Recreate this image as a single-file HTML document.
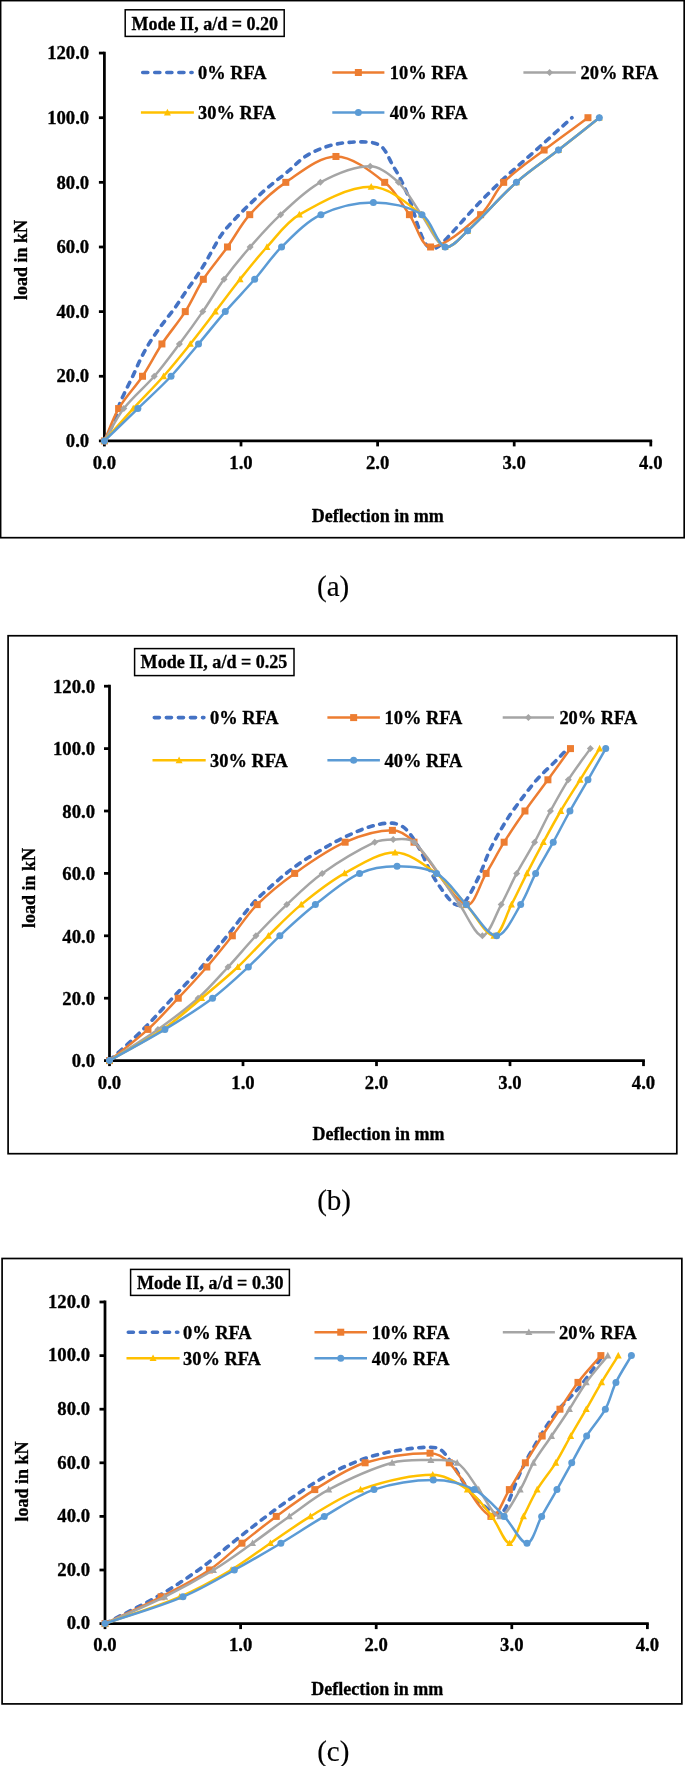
<!DOCTYPE html>
<html><head><meta charset="utf-8"><title>Mode II load-deflection charts</title>
<style>html,body{margin:0;padding:0;background:#fff;} svg{display:block;will-change:transform;}</style></head>
<body>
<svg width="685" height="1766" viewBox="0 0 685 1766">
<rect x="0" y="0" width="685" height="1766" fill="#fff"/>
<rect x="0.6" y="0.6" width="683.6" height="537.1" fill="#fff" stroke="#000" stroke-width="1.7"/>
<rect x="125.2" y="9.8" width="159.0" height="26.599999999999998" fill="#fff" stroke="#000" stroke-width="1.5"/>
<text x="131.5" y="29.7" font-family="Liberation Serif" font-weight="bold" stroke="#000" stroke-width="0.3" font-size="18" textLength="146.6" lengthAdjust="spacingAndGlyphs">Mode II, a/d = 0.20</text>
<line x1="98.90" y1="440.90" x2="104.40" y2="440.90" stroke="#000" stroke-width="2.75"/>
<text x="89.20" y="447.10" font-family="Liberation Serif" font-weight="bold" stroke="#000" stroke-width="0.3" font-size="18.7" text-anchor="end">0.0</text>
<line x1="98.90" y1="376.26" x2="104.40" y2="376.26" stroke="#000" stroke-width="2.75"/>
<text x="89.20" y="382.46" font-family="Liberation Serif" font-weight="bold" stroke="#000" stroke-width="0.3" font-size="18.7" text-anchor="end">20.0</text>
<line x1="98.90" y1="311.62" x2="104.40" y2="311.62" stroke="#000" stroke-width="2.75"/>
<text x="89.20" y="317.82" font-family="Liberation Serif" font-weight="bold" stroke="#000" stroke-width="0.3" font-size="18.7" text-anchor="end">40.0</text>
<line x1="98.90" y1="246.98" x2="104.40" y2="246.98" stroke="#000" stroke-width="2.75"/>
<text x="89.20" y="253.18" font-family="Liberation Serif" font-weight="bold" stroke="#000" stroke-width="0.3" font-size="18.7" text-anchor="end">60.0</text>
<line x1="98.90" y1="182.34" x2="104.40" y2="182.34" stroke="#000" stroke-width="2.75"/>
<text x="89.20" y="188.54" font-family="Liberation Serif" font-weight="bold" stroke="#000" stroke-width="0.3" font-size="18.7" text-anchor="end">80.0</text>
<line x1="98.90" y1="117.70" x2="104.40" y2="117.70" stroke="#000" stroke-width="2.75"/>
<text x="89.20" y="123.90" font-family="Liberation Serif" font-weight="bold" stroke="#000" stroke-width="0.3" font-size="18.7" text-anchor="end">100.0</text>
<line x1="98.90" y1="53.06" x2="104.40" y2="53.06" stroke="#000" stroke-width="2.75"/>
<text x="89.20" y="59.26" font-family="Liberation Serif" font-weight="bold" stroke="#000" stroke-width="0.3" font-size="18.7" text-anchor="end">120.0</text>
<line x1="104.40" y1="440.90" x2="104.40" y2="446.40" stroke="#000" stroke-width="2.75"/>
<text x="104.40" y="468.60" font-family="Liberation Serif" font-weight="bold" stroke="#000" stroke-width="0.3" font-size="18.7" text-anchor="middle">0.0</text>
<line x1="241.00" y1="440.90" x2="241.00" y2="446.40" stroke="#000" stroke-width="2.75"/>
<text x="241.00" y="468.60" font-family="Liberation Serif" font-weight="bold" stroke="#000" stroke-width="0.3" font-size="18.7" text-anchor="middle">1.0</text>
<line x1="377.60" y1="440.90" x2="377.60" y2="446.40" stroke="#000" stroke-width="2.75"/>
<text x="377.60" y="468.60" font-family="Liberation Serif" font-weight="bold" stroke="#000" stroke-width="0.3" font-size="18.7" text-anchor="middle">2.0</text>
<line x1="514.20" y1="440.90" x2="514.20" y2="446.40" stroke="#000" stroke-width="2.75"/>
<text x="514.20" y="468.60" font-family="Liberation Serif" font-weight="bold" stroke="#000" stroke-width="0.3" font-size="18.7" text-anchor="middle">3.0</text>
<line x1="650.80" y1="440.90" x2="650.80" y2="446.40" stroke="#000" stroke-width="2.75"/>
<text x="650.80" y="468.60" font-family="Liberation Serif" font-weight="bold" stroke="#000" stroke-width="0.3" font-size="18.7" text-anchor="middle">4.0</text>
<path d="M104.40,51.68 L104.40,440.90 L652.17,440.90" fill="none" stroke="#000" stroke-width="2.75"/>
<text x="377.8" y="522.3" font-family="Liberation Serif" font-weight="bold" stroke="#000" stroke-width="0.3" font-size="18" text-anchor="middle">Deflection in mm</text>
<text transform="translate(26.8,260.0) rotate(-90)" font-family="Liberation Serif" font-weight="bold" stroke="#000" stroke-width="0.3" font-size="18" text-anchor="middle">load in kN</text>
<path d="M104.40,440.90 C107.59,434.44 111.22,428.16 113.96,421.51 C116.55,415.23 117.77,408.39 120.38,402.12 C124.28,392.77 129.18,383.83 133.50,374.64 C136.01,369.28 138.23,363.78 140.87,358.48 C143.33,353.55 145.93,348.65 148.80,343.94 C151.76,339.06 155.06,334.38 158.36,329.72 C161.30,325.55 164.43,321.51 167.51,317.44 C170.13,313.97 172.91,310.63 175.43,307.10 C178.74,302.44 181.75,297.58 184.99,292.87 C188.36,287.99 191.92,283.24 195.24,278.33 C198.47,273.55 201.67,268.73 204.66,263.79 C207.55,259.03 210.08,254.06 212.86,249.24 C215.68,244.36 218.17,239.24 221.47,234.70 C225.45,229.22 229.99,224.06 234.72,219.18 C244.19,209.41 253.95,199.83 264.09,190.74 C271.98,183.67 280.66,177.49 288.81,170.70 C294.37,166.07 299.21,160.41 305.20,156.48 C311.05,152.65 317.76,149.92 324.33,147.43 C329.14,145.61 334.27,144.40 339.35,143.56 C345.29,142.57 351.37,142.05 357.38,141.94 C362.80,141.84 368.48,141.68 373.64,142.91 C377.04,143.72 380.80,145.47 383.06,148.08 C387.04,152.68 389.25,159.07 392.35,164.56 C395.03,169.31 398.04,173.89 400.41,178.78 C404.05,186.28 407.48,193.93 410.38,201.73 C413.53,210.19 415.41,219.14 418.58,227.59 C420.87,233.68 422.99,240.59 426.78,245.36 C428.46,247.49 432.46,248.77 434.97,248.27 C437.93,247.69 440.79,244.57 443.17,242.13 C453.86,231.21 463.63,219.31 474.18,208.20 C482.75,199.16 491.47,190.23 500.54,181.69 C512.09,170.83 524.24,160.60 536.06,150.02 C548.05,139.27 560.01,128.47 571.98,117.70" fill="none" stroke="#4472C4" stroke-width="3.6" stroke-dasharray="5.1 6.65" stroke-linecap="round" stroke-linejoin="round"/>
<path d="M104.40,440.90 C109.14,430.13 112.67,418.65 118.61,408.58 C125.37,397.11 135.06,387.38 142.51,376.26 C149.50,365.83 154.98,354.41 161.91,343.94 C169.24,332.86 178.11,322.80 185.27,311.62 C191.91,301.25 196.57,289.61 203.30,279.30 C210.64,268.06 219.63,257.90 227.48,246.98 C235.11,236.36 241.04,224.31 249.74,214.66 C260.48,202.76 272.53,191.30 285.80,182.34 C301.26,171.91 319.28,156.48 335.94,156.48 C352.24,156.48 370.60,171.18 384.70,182.34 C395.10,190.57 401.58,203.61 409.43,214.66 C416.88,225.15 421.26,246.98 430.60,246.98 C444.99,246.98 465.98,227.58 480.60,214.66 C490.34,206.04 494.49,191.69 503.68,182.34 C515.66,170.15 530.43,160.52 544.12,150.02 C558.52,138.97 573.35,128.47 587.96,117.70" fill="none" stroke="#ED7D31" stroke-width="2.5" stroke-linejoin="round"/>
<rect x="100.90" y="437.40" width="7.00" height="7.00" fill="#ED7D31"/>
<rect x="115.11" y="405.08" width="7.00" height="7.00" fill="#ED7D31"/>
<rect x="139.01" y="372.76" width="7.00" height="7.00" fill="#ED7D31"/>
<rect x="158.41" y="340.44" width="7.00" height="7.00" fill="#ED7D31"/>
<rect x="181.77" y="308.12" width="7.00" height="7.00" fill="#ED7D31"/>
<rect x="199.80" y="275.80" width="7.00" height="7.00" fill="#ED7D31"/>
<rect x="223.98" y="243.48" width="7.00" height="7.00" fill="#ED7D31"/>
<rect x="246.24" y="211.16" width="7.00" height="7.00" fill="#ED7D31"/>
<rect x="282.30" y="178.84" width="7.00" height="7.00" fill="#ED7D31"/>
<rect x="332.44" y="152.98" width="7.00" height="7.00" fill="#ED7D31"/>
<rect x="381.20" y="178.84" width="7.00" height="7.00" fill="#ED7D31"/>
<rect x="405.93" y="211.16" width="7.00" height="7.00" fill="#ED7D31"/>
<rect x="427.10" y="243.48" width="7.00" height="7.00" fill="#ED7D31"/>
<rect x="477.10" y="211.16" width="7.00" height="7.00" fill="#ED7D31"/>
<rect x="500.18" y="178.84" width="7.00" height="7.00" fill="#ED7D31"/>
<rect x="540.62" y="146.52" width="7.00" height="7.00" fill="#ED7D31"/>
<rect x="584.46" y="114.20" width="7.00" height="7.00" fill="#ED7D31"/>
<path d="M104.40,440.90 C110.87,430.13 116.17,418.47 123.80,408.58 C132.79,396.93 144.62,387.47 154.26,376.26 C163.15,365.92 171.20,354.86 179.39,343.94 C187.37,333.31 195.20,322.55 202.75,311.62 C210.09,301.01 216.44,289.69 224.06,279.30 C232.24,268.15 241.04,257.39 250.15,246.98 C259.89,235.85 269.75,224.67 280.61,214.66 C293.15,203.12 305.60,190.33 320.36,182.34 C335.47,174.17 354.17,166.18 370.22,166.18 C380.17,166.18 390.69,175.07 398.36,182.34 C407.76,191.23 413.69,203.93 421.45,214.66 C429.27,225.48 435.99,243.80 445.08,246.98 C451.38,249.18 460.79,237.01 467.62,230.82 C484.56,215.47 499.29,197.54 516.39,182.34 C529.57,170.61 544.51,160.89 558.46,150.02 C572.15,139.35 585.69,128.47 599.30,117.70" fill="none" stroke="#A5A5A5" stroke-width="2.5" stroke-linejoin="round"/>
<path d="M104.40,437.40 L107.90,440.90 L104.40,444.40 L100.90,440.90Z" fill="#A5A5A5"/>
<path d="M123.80,405.08 L127.30,408.58 L123.80,412.08 L120.30,408.58Z" fill="#A5A5A5"/>
<path d="M154.26,372.76 L157.76,376.26 L154.26,379.76 L150.76,376.26Z" fill="#A5A5A5"/>
<path d="M179.39,340.44 L182.89,343.94 L179.39,347.44 L175.89,343.94Z" fill="#A5A5A5"/>
<path d="M202.75,308.12 L206.25,311.62 L202.75,315.12 L199.25,311.62Z" fill="#A5A5A5"/>
<path d="M224.06,275.80 L227.56,279.30 L224.06,282.80 L220.56,279.30Z" fill="#A5A5A5"/>
<path d="M250.15,243.48 L253.65,246.98 L250.15,250.48 L246.65,246.98Z" fill="#A5A5A5"/>
<path d="M280.61,211.16 L284.11,214.66 L280.61,218.16 L277.11,214.66Z" fill="#A5A5A5"/>
<path d="M320.36,178.84 L323.86,182.34 L320.36,185.84 L316.86,182.34Z" fill="#A5A5A5"/>
<path d="M370.22,162.68 L373.72,166.18 L370.22,169.68 L366.72,166.18Z" fill="#A5A5A5"/>
<path d="M398.36,178.84 L401.86,182.34 L398.36,185.84 L394.86,182.34Z" fill="#A5A5A5"/>
<path d="M421.45,211.16 L424.95,214.66 L421.45,218.16 L417.95,214.66Z" fill="#A5A5A5"/>
<path d="M445.08,243.48 L448.58,246.98 L445.08,250.48 L441.58,246.98Z" fill="#A5A5A5"/>
<path d="M467.62,227.32 L471.12,230.82 L467.62,234.32 L464.12,230.82Z" fill="#A5A5A5"/>
<path d="M516.39,178.84 L519.89,182.34 L516.39,185.84 L512.89,182.34Z" fill="#A5A5A5"/>
<path d="M558.46,146.52 L561.96,150.02 L558.46,153.52 L554.96,150.02Z" fill="#A5A5A5"/>
<path d="M599.30,114.20 L602.80,117.70 L599.30,121.20 L595.80,117.70Z" fill="#A5A5A5"/>
<path d="M104.40,440.90 C114.01,430.13 123.48,419.23 133.22,408.58 C143.19,397.68 153.77,387.33 163.55,376.26 C172.81,365.78 181.58,354.86 190.32,343.94 C198.83,333.31 207.02,322.42 215.32,311.62 C223.59,300.87 231.58,289.90 240.04,279.30 C248.79,268.35 257.49,257.30 266.95,246.98 C277.25,235.75 286.38,222.13 299.33,214.66 C321.13,202.09 347.87,186.86 371.18,186.86 C388.53,186.86 406.81,202.88 421.31,214.66 C431.49,222.92 436.07,243.79 445.22,246.98 C451.50,249.17 460.82,236.99 467.62,230.82 C484.54,215.45 499.29,197.54 516.39,182.34 C529.57,170.61 544.51,160.89 558.46,150.02 C572.15,139.35 585.69,128.47 599.30,117.70" fill="none" stroke="#FFC000" stroke-width="2.5" stroke-linejoin="round"/>
<path d="M104.40,437.10 L107.90,443.80 L100.90,443.80Z" fill="#FFC000"/>
<path d="M133.22,404.78 L136.72,411.48 L129.72,411.48Z" fill="#FFC000"/>
<path d="M163.55,372.46 L167.05,379.16 L160.05,379.16Z" fill="#FFC000"/>
<path d="M190.32,340.14 L193.82,346.84 L186.82,346.84Z" fill="#FFC000"/>
<path d="M215.32,307.82 L218.82,314.52 L211.82,314.52Z" fill="#FFC000"/>
<path d="M240.04,275.50 L243.54,282.20 L236.54,282.20Z" fill="#FFC000"/>
<path d="M266.95,243.18 L270.45,249.88 L263.45,249.88Z" fill="#FFC000"/>
<path d="M299.33,210.86 L302.83,217.56 L295.83,217.56Z" fill="#FFC000"/>
<path d="M371.18,183.06 L374.68,189.76 L367.68,189.76Z" fill="#FFC000"/>
<path d="M421.31,210.86 L424.81,217.56 L417.81,217.56Z" fill="#FFC000"/>
<path d="M445.22,243.18 L448.72,249.88 L441.72,249.88Z" fill="#FFC000"/>
<path d="M467.62,227.02 L471.12,233.72 L464.12,233.72Z" fill="#FFC000"/>
<path d="M516.39,178.54 L519.89,185.24 L512.89,185.24Z" fill="#FFC000"/>
<path d="M558.46,146.22 L561.96,152.92 L554.96,152.92Z" fill="#FFC000"/>
<path d="M599.30,113.90 L602.80,120.60 L595.80,120.60Z" fill="#FFC000"/>
<path d="M104.40,440.90 C115.56,430.13 126.73,419.38 137.87,408.58 C148.95,397.83 160.51,387.51 171.06,376.26 C180.72,365.96 189.43,354.77 198.52,343.94 C207.51,333.22 216.12,322.18 225.29,311.62 C234.83,300.63 245.10,290.28 254.66,279.30 C263.86,268.73 271.58,256.73 281.57,246.98 C293.66,235.18 306.04,221.88 320.91,214.66 C336.64,207.02 355.92,202.38 373.37,202.38 C389.61,202.38 408.65,206.36 422.00,214.66 C432.56,221.23 436.13,243.81 445.08,246.98 C451.33,249.19 460.79,237.01 467.62,230.82 C484.56,215.47 499.29,197.54 516.39,182.34 C529.57,170.61 544.51,160.89 558.46,150.02 C572.15,139.35 585.69,128.47 599.30,117.70" fill="none" stroke="#5B9BD5" stroke-width="2.5" stroke-linejoin="round"/>
<circle cx="104.40" cy="440.90" r="3.50" fill="#5B9BD5"/>
<circle cx="137.87" cy="408.58" r="3.50" fill="#5B9BD5"/>
<circle cx="171.06" cy="376.26" r="3.50" fill="#5B9BD5"/>
<circle cx="198.52" cy="343.94" r="3.50" fill="#5B9BD5"/>
<circle cx="225.29" cy="311.62" r="3.50" fill="#5B9BD5"/>
<circle cx="254.66" cy="279.30" r="3.50" fill="#5B9BD5"/>
<circle cx="281.57" cy="246.98" r="3.50" fill="#5B9BD5"/>
<circle cx="320.91" cy="214.66" r="3.50" fill="#5B9BD5"/>
<circle cx="373.37" cy="202.38" r="3.50" fill="#5B9BD5"/>
<circle cx="422.00" cy="214.66" r="3.50" fill="#5B9BD5"/>
<circle cx="445.08" cy="246.98" r="3.50" fill="#5B9BD5"/>
<circle cx="467.62" cy="230.82" r="3.50" fill="#5B9BD5"/>
<circle cx="516.39" cy="182.34" r="3.50" fill="#5B9BD5"/>
<circle cx="558.46" cy="150.02" r="3.50" fill="#5B9BD5"/>
<circle cx="599.30" cy="117.70" r="3.50" fill="#5B9BD5"/>
<line x1="142.70000000000002" y1="72.5" x2="192.1" y2="72.5" stroke="#4472C4" stroke-width="3.6" stroke-dasharray="5.1 6.95" stroke-linecap="round"/>
<text x="198.0" y="78.90" font-family="Liberation Serif" font-weight="bold" stroke="#000" stroke-width="0.3" font-size="18.4">0% RFA</text>
<line x1="332.3" y1="72.5" x2="384.4" y2="72.5" stroke="#ED7D31" stroke-width="2.5"/>
<rect x="354.85" y="69.00" width="7.00" height="7.00" fill="#ED7D31"/>
<text x="389.8" y="78.90" font-family="Liberation Serif" font-weight="bold" stroke="#000" stroke-width="0.3" font-size="18.4">10% RFA</text>
<line x1="523.4" y1="72.5" x2="575.9" y2="72.5" stroke="#A5A5A5" stroke-width="2.5"/>
<path d="M549.65,69.00 L553.15,72.50 L549.65,76.00 L546.15,72.50Z" fill="#A5A5A5"/>
<text x="580.6" y="78.90" font-family="Liberation Serif" font-weight="bold" stroke="#000" stroke-width="0.3" font-size="18.4">20% RFA</text>
<line x1="140.9" y1="112.5" x2="193.9" y2="112.5" stroke="#FFC000" stroke-width="2.5"/>
<path d="M167.40,108.70 L170.90,115.40 L163.90,115.40Z" fill="#FFC000"/>
<text x="198.0" y="118.90" font-family="Liberation Serif" font-weight="bold" stroke="#000" stroke-width="0.3" font-size="18.4">30% RFA</text>
<line x1="332.3" y1="112.5" x2="384.4" y2="112.5" stroke="#5B9BD5" stroke-width="2.5"/>
<circle cx="358.35" cy="112.50" r="3.50" fill="#5B9BD5"/>
<text x="389.8" y="118.90" font-family="Liberation Serif" font-weight="bold" stroke="#000" stroke-width="0.3" font-size="18.4">40% RFA</text>
<rect x="8.1" y="635.75" width="668.6999999999999" height="517.95" fill="#fff" stroke="#000" stroke-width="1.7"/>
<rect x="134.6" y="648.6" width="159.4" height="27.0" fill="#fff" stroke="#000" stroke-width="1.5"/>
<text x="140.6" y="668.1" font-family="Liberation Serif" font-weight="bold" stroke="#000" stroke-width="0.3" font-size="18" textLength="146.8" lengthAdjust="spacingAndGlyphs">Mode II, a/d = 0.25</text>
<line x1="104.00" y1="1060.60" x2="109.50" y2="1060.60" stroke="#000" stroke-width="2.75"/>
<text x="95.00" y="1067.40" font-family="Liberation Serif" font-weight="bold" stroke="#000" stroke-width="0.3" font-size="18.7" text-anchor="end">0.0</text>
<line x1="104.00" y1="998.20" x2="109.50" y2="998.20" stroke="#000" stroke-width="2.75"/>
<text x="95.00" y="1005.00" font-family="Liberation Serif" font-weight="bold" stroke="#000" stroke-width="0.3" font-size="18.7" text-anchor="end">20.0</text>
<line x1="104.00" y1="935.80" x2="109.50" y2="935.80" stroke="#000" stroke-width="2.75"/>
<text x="95.00" y="942.60" font-family="Liberation Serif" font-weight="bold" stroke="#000" stroke-width="0.3" font-size="18.7" text-anchor="end">40.0</text>
<line x1="104.00" y1="873.40" x2="109.50" y2="873.40" stroke="#000" stroke-width="2.75"/>
<text x="95.00" y="880.20" font-family="Liberation Serif" font-weight="bold" stroke="#000" stroke-width="0.3" font-size="18.7" text-anchor="end">60.0</text>
<line x1="104.00" y1="811.00" x2="109.50" y2="811.00" stroke="#000" stroke-width="2.75"/>
<text x="95.00" y="817.80" font-family="Liberation Serif" font-weight="bold" stroke="#000" stroke-width="0.3" font-size="18.7" text-anchor="end">80.0</text>
<line x1="104.00" y1="748.60" x2="109.50" y2="748.60" stroke="#000" stroke-width="2.75"/>
<text x="95.00" y="755.40" font-family="Liberation Serif" font-weight="bold" stroke="#000" stroke-width="0.3" font-size="18.7" text-anchor="end">100.0</text>
<line x1="104.00" y1="686.20" x2="109.50" y2="686.20" stroke="#000" stroke-width="2.75"/>
<text x="95.00" y="693.00" font-family="Liberation Serif" font-weight="bold" stroke="#000" stroke-width="0.3" font-size="18.7" text-anchor="end">120.0</text>
<line x1="109.50" y1="1060.60" x2="109.50" y2="1066.10" stroke="#000" stroke-width="2.75"/>
<text x="109.50" y="1088.50" font-family="Liberation Serif" font-weight="bold" stroke="#000" stroke-width="0.3" font-size="18.7" text-anchor="middle">0.0</text>
<line x1="243.00" y1="1060.60" x2="243.00" y2="1066.10" stroke="#000" stroke-width="2.75"/>
<text x="243.00" y="1088.50" font-family="Liberation Serif" font-weight="bold" stroke="#000" stroke-width="0.3" font-size="18.7" text-anchor="middle">1.0</text>
<line x1="376.50" y1="1060.60" x2="376.50" y2="1066.10" stroke="#000" stroke-width="2.75"/>
<text x="376.50" y="1088.50" font-family="Liberation Serif" font-weight="bold" stroke="#000" stroke-width="0.3" font-size="18.7" text-anchor="middle">2.0</text>
<line x1="510.00" y1="1060.60" x2="510.00" y2="1066.10" stroke="#000" stroke-width="2.75"/>
<text x="510.00" y="1088.50" font-family="Liberation Serif" font-weight="bold" stroke="#000" stroke-width="0.3" font-size="18.7" text-anchor="middle">3.0</text>
<line x1="643.50" y1="1060.60" x2="643.50" y2="1066.10" stroke="#000" stroke-width="2.75"/>
<text x="643.50" y="1088.50" font-family="Liberation Serif" font-weight="bold" stroke="#000" stroke-width="0.3" font-size="18.7" text-anchor="middle">4.0</text>
<path d="M109.50,684.82 L109.50,1060.60 L644.88,1060.60" fill="none" stroke="#000" stroke-width="2.75"/>
<text x="378.5" y="1139.8" font-family="Liberation Serif" font-weight="bold" stroke="#000" stroke-width="0.3" font-size="18" text-anchor="middle">Deflection in mm</text>
<text transform="translate(34.6,887.9) rotate(-90)" font-family="Liberation Serif" font-weight="bold" stroke="#000" stroke-width="0.3" font-size="18" text-anchor="middle">load in kN</text>
<path d="M109.50,1060.60 C120.71,1050.20 132.29,1040.17 143.14,1029.40 C153.25,1019.37 162.63,1008.60 172.38,998.20 C182.12,987.80 192.21,977.70 201.62,967.00 C210.50,956.90 218.81,946.29 227.25,935.80 C235.54,925.49 243.19,914.61 251.81,904.60 C256.18,899.53 261.22,895.01 266.23,890.56 C274.79,882.95 283.36,875.26 292.53,868.41 C300.90,862.15 309.86,856.62 318.83,851.25 C327.39,846.12 336.12,841.17 345.13,836.90 C353.65,832.85 362.41,828.91 371.43,826.29 C378.16,824.33 385.60,822.67 392.39,823.17 C396.95,823.50 402.11,825.68 405.47,828.78 C410.88,833.79 414.82,840.94 418.69,847.50 C422.97,854.77 425.91,862.83 429.90,870.28 C432.76,875.62 435.73,880.96 439.25,885.88 C443.61,891.98 448.01,898.88 453.53,903.35 C455.71,905.12 460.48,906.46 462.34,904.60 C468.49,898.45 473.15,888.09 477.56,879.33 C482.58,869.37 485.72,858.46 490.64,848.44 C495.42,838.70 500.93,829.26 506.66,820.05 C511.03,813.04 516.00,806.39 520.95,799.77 C526.19,792.76 531.43,785.71 537.23,779.18 C542.33,773.43 548.21,768.39 553.65,762.95 C558.09,758.51 562.47,754.01 566.87,749.54" fill="none" stroke="#4472C4" stroke-width="3.6" stroke-dasharray="5.1 6.65" stroke-linecap="round" stroke-linejoin="round"/>
<path d="M109.50,1060.60 C122.32,1050.20 135.75,1040.47 147.95,1029.40 C158.67,1019.67 168.30,1008.74 178.25,998.20 C187.93,987.94 197.59,977.65 206.82,967.00 C215.61,956.85 223.89,946.25 232.32,935.80 C240.66,925.45 247.81,913.95 257.15,904.60 C268.59,893.15 281.43,882.79 294.66,873.40 C310.76,861.99 327.24,850.08 345.13,842.20 C359.82,835.73 377.14,830.34 392.39,830.34 C400.10,830.34 408.29,836.44 414.01,842.20 C432.90,861.19 449.69,897.45 466.21,904.60 C473.72,907.85 479.70,883.94 486.10,873.40 C492.34,863.14 497.78,852.39 504.13,842.20 C510.73,831.59 517.77,821.23 524.95,811.00 C532.37,800.43 540.30,790.23 547.91,779.80 C555.48,769.43 562.96,759.00 570.48,748.60" fill="none" stroke="#ED7D31" stroke-width="2.5" stroke-linejoin="round"/>
<rect x="106.00" y="1057.10" width="7.00" height="7.00" fill="#ED7D31"/>
<rect x="144.45" y="1025.90" width="7.00" height="7.00" fill="#ED7D31"/>
<rect x="174.75" y="994.70" width="7.00" height="7.00" fill="#ED7D31"/>
<rect x="203.32" y="963.50" width="7.00" height="7.00" fill="#ED7D31"/>
<rect x="228.82" y="932.30" width="7.00" height="7.00" fill="#ED7D31"/>
<rect x="253.65" y="901.10" width="7.00" height="7.00" fill="#ED7D31"/>
<rect x="291.16" y="869.90" width="7.00" height="7.00" fill="#ED7D31"/>
<rect x="341.63" y="838.70" width="7.00" height="7.00" fill="#ED7D31"/>
<rect x="388.89" y="826.84" width="7.00" height="7.00" fill="#ED7D31"/>
<rect x="410.51" y="838.70" width="7.00" height="7.00" fill="#ED7D31"/>
<rect x="462.71" y="901.10" width="7.00" height="7.00" fill="#ED7D31"/>
<rect x="482.60" y="869.90" width="7.00" height="7.00" fill="#ED7D31"/>
<rect x="500.63" y="838.70" width="7.00" height="7.00" fill="#ED7D31"/>
<rect x="521.45" y="807.50" width="7.00" height="7.00" fill="#ED7D31"/>
<rect x="544.41" y="776.30" width="7.00" height="7.00" fill="#ED7D31"/>
<rect x="566.98" y="745.10" width="7.00" height="7.00" fill="#ED7D31"/>
<path d="M109.50,1060.60 C125.65,1050.20 142.27,1040.45 157.96,1029.40 C171.81,1019.65 185.51,1009.45 198.14,998.20 C208.87,988.65 218.26,977.57 228.05,967.00 C237.53,956.77 246.39,945.96 255.95,935.80 C265.97,925.16 276.15,914.62 286.79,904.60 C298.22,893.82 309.40,882.46 322.17,873.40 C338.72,861.66 356.62,850.89 374.76,842.20 C380.29,839.55 387.04,839.39 393.19,839.39 C400.17,839.39 409.39,837.52 414.15,842.20 C431.51,859.26 444.39,883.81 459.54,904.60 C467.13,915.01 475.22,935.80 482.37,935.80 C489.10,935.80 495.34,915.23 501.19,904.60 C506.78,894.43 511.20,883.63 516.67,873.40 C522.33,862.83 528.86,852.74 534.56,842.20 C540.12,831.94 544.90,821.26 550.45,811.00 C556.16,800.46 561.89,789.89 568.34,779.80 C575.19,769.09 583.02,759.00 590.37,748.60" fill="none" stroke="#A5A5A5" stroke-width="2.5" stroke-linejoin="round"/>
<path d="M109.50,1057.10 L113.00,1060.60 L109.50,1064.10 L106.00,1060.60Z" fill="#A5A5A5"/>
<path d="M157.96,1025.90 L161.46,1029.40 L157.96,1032.90 L154.46,1029.40Z" fill="#A5A5A5"/>
<path d="M198.14,994.70 L201.64,998.20 L198.14,1001.70 L194.64,998.20Z" fill="#A5A5A5"/>
<path d="M228.05,963.50 L231.55,967.00 L228.05,970.50 L224.55,967.00Z" fill="#A5A5A5"/>
<path d="M255.95,932.30 L259.45,935.80 L255.95,939.30 L252.45,935.80Z" fill="#A5A5A5"/>
<path d="M286.79,901.10 L290.29,904.60 L286.79,908.10 L283.29,904.60Z" fill="#A5A5A5"/>
<path d="M322.17,869.90 L325.67,873.40 L322.17,876.90 L318.67,873.40Z" fill="#A5A5A5"/>
<path d="M374.76,838.70 L378.26,842.20 L374.76,845.70 L371.26,842.20Z" fill="#A5A5A5"/>
<path d="M393.19,835.89 L396.69,839.39 L393.19,842.89 L389.69,839.39Z" fill="#A5A5A5"/>
<path d="M414.15,838.70 L417.65,842.20 L414.15,845.70 L410.65,842.20Z" fill="#A5A5A5"/>
<path d="M459.54,901.10 L463.04,904.60 L459.54,908.10 L456.04,904.60Z" fill="#A5A5A5"/>
<path d="M482.37,932.30 L485.87,935.80 L482.37,939.30 L478.87,935.80Z" fill="#A5A5A5"/>
<path d="M501.19,901.10 L504.69,904.60 L501.19,908.10 L497.69,904.60Z" fill="#A5A5A5"/>
<path d="M516.67,869.90 L520.17,873.40 L516.67,876.90 L513.17,873.40Z" fill="#A5A5A5"/>
<path d="M534.56,838.70 L538.06,842.20 L534.56,845.70 L531.06,842.20Z" fill="#A5A5A5"/>
<path d="M550.45,807.50 L553.95,811.00 L550.45,814.50 L546.95,811.00Z" fill="#A5A5A5"/>
<path d="M568.34,776.30 L571.84,779.80 L568.34,783.30 L564.84,779.80Z" fill="#A5A5A5"/>
<path d="M590.37,745.10 L593.87,748.60 L590.37,752.10 L586.87,748.60Z" fill="#A5A5A5"/>
<path d="M109.50,1060.60 C127.30,1050.20 145.88,1040.93 162.90,1029.40 C176.58,1020.13 188.88,1008.81 201.62,998.20 C213.85,988.01 226.17,977.87 237.79,967.00 C248.42,957.07 257.99,946.01 268.37,935.80 C279.13,925.21 289.55,914.14 301.21,904.60 C314.96,893.34 329.12,881.99 344.59,873.40 C360.41,864.62 378.51,852.50 395.06,852.50 C408.99,852.50 423.84,864.46 436.04,873.40 C447.55,881.83 456.37,894.00 466.21,904.60 C475.68,914.80 485.85,935.80 493.98,935.80 C500.94,935.80 505.90,915.14 511.47,904.60 C516.89,894.34 521.67,883.74 526.95,873.40 C532.30,862.94 537.78,852.53 543.38,842.20 C549.04,831.73 554.70,821.25 560.73,811.00 C566.93,800.45 573.62,790.19 580.09,779.80 C586.57,769.39 593.08,759.00 599.58,748.60" fill="none" stroke="#FFC000" stroke-width="2.5" stroke-linejoin="round"/>
<path d="M109.50,1056.80 L113.00,1063.50 L106.00,1063.50Z" fill="#FFC000"/>
<path d="M162.90,1025.60 L166.40,1032.30 L159.40,1032.30Z" fill="#FFC000"/>
<path d="M201.62,994.40 L205.12,1001.10 L198.12,1001.10Z" fill="#FFC000"/>
<path d="M237.79,963.20 L241.29,969.90 L234.29,969.90Z" fill="#FFC000"/>
<path d="M268.37,932.00 L271.87,938.70 L264.87,938.70Z" fill="#FFC000"/>
<path d="M301.21,900.80 L304.71,907.50 L297.71,907.50Z" fill="#FFC000"/>
<path d="M344.59,869.60 L348.09,876.30 L341.09,876.30Z" fill="#FFC000"/>
<path d="M395.06,848.70 L398.56,855.40 L391.56,855.40Z" fill="#FFC000"/>
<path d="M436.04,869.60 L439.54,876.30 L432.54,876.30Z" fill="#FFC000"/>
<path d="M466.21,900.80 L469.71,907.50 L462.71,907.50Z" fill="#FFC000"/>
<path d="M493.98,932.00 L497.48,938.70 L490.48,938.70Z" fill="#FFC000"/>
<path d="M511.47,900.80 L514.97,907.50 L507.97,907.50Z" fill="#FFC000"/>
<path d="M526.95,869.60 L530.45,876.30 L523.45,876.30Z" fill="#FFC000"/>
<path d="M543.38,838.40 L546.88,845.10 L539.88,845.10Z" fill="#FFC000"/>
<path d="M560.73,807.20 L564.23,813.90 L557.23,813.90Z" fill="#FFC000"/>
<path d="M580.09,776.00 L583.59,782.70 L576.59,782.70Z" fill="#FFC000"/>
<path d="M599.58,744.80 L603.08,751.50 L596.08,751.50Z" fill="#FFC000"/>
<path d="M109.50,1060.60 C127.97,1050.20 146.78,1040.37 164.90,1029.40 C181.14,1019.57 197.39,1009.55 212.56,998.20 C225.20,988.75 236.74,977.75 248.34,967.00 C259.17,956.95 269.03,945.87 279.85,935.80 C291.37,925.07 302.97,914.30 315.36,904.60 C329.53,893.50 343.58,880.90 359.55,873.40 C370.82,868.11 384.54,866.22 397.06,866.22 C410.22,866.22 425.45,867.22 436.58,873.40 C448.50,880.02 456.26,894.27 466.21,904.60 C476.29,915.07 487.11,935.80 496.65,935.80 C505.27,935.80 513.76,915.67 520.68,904.60 C526.76,894.87 530.30,883.62 535.63,873.40 C541.16,862.82 547.50,852.67 553.25,842.20 C558.94,831.87 564.21,821.31 569.94,811.00 C575.78,800.51 581.99,790.22 587.96,779.80 C593.92,769.42 599.80,759.00 605.72,748.60" fill="none" stroke="#5B9BD5" stroke-width="2.5" stroke-linejoin="round"/>
<circle cx="109.50" cy="1060.60" r="3.50" fill="#5B9BD5"/>
<circle cx="164.90" cy="1029.40" r="3.50" fill="#5B9BD5"/>
<circle cx="212.56" cy="998.20" r="3.50" fill="#5B9BD5"/>
<circle cx="248.34" cy="967.00" r="3.50" fill="#5B9BD5"/>
<circle cx="279.85" cy="935.80" r="3.50" fill="#5B9BD5"/>
<circle cx="315.36" cy="904.60" r="3.50" fill="#5B9BD5"/>
<circle cx="359.55" cy="873.40" r="3.50" fill="#5B9BD5"/>
<circle cx="397.06" cy="866.22" r="3.50" fill="#5B9BD5"/>
<circle cx="436.58" cy="873.40" r="3.50" fill="#5B9BD5"/>
<circle cx="466.21" cy="904.60" r="3.50" fill="#5B9BD5"/>
<circle cx="496.65" cy="935.80" r="3.50" fill="#5B9BD5"/>
<circle cx="520.68" cy="904.60" r="3.50" fill="#5B9BD5"/>
<circle cx="535.63" cy="873.40" r="3.50" fill="#5B9BD5"/>
<circle cx="553.25" cy="842.20" r="3.50" fill="#5B9BD5"/>
<circle cx="569.94" cy="811.00" r="3.50" fill="#5B9BD5"/>
<circle cx="587.96" cy="779.80" r="3.50" fill="#5B9BD5"/>
<circle cx="605.72" cy="748.60" r="3.50" fill="#5B9BD5"/>
<line x1="154.3" y1="717.6" x2="203.89999999999998" y2="717.6" stroke="#4472C4" stroke-width="3.6" stroke-dasharray="5.1 6.95" stroke-linecap="round"/>
<text x="210.0" y="724.00" font-family="Liberation Serif" font-weight="bold" stroke="#000" stroke-width="0.3" font-size="18.4">0% RFA</text>
<line x1="327.4" y1="717.6" x2="379.9" y2="717.6" stroke="#ED7D31" stroke-width="2.5"/>
<rect x="350.15" y="714.10" width="7.00" height="7.00" fill="#ED7D31"/>
<text x="384.6" y="724.00" font-family="Liberation Serif" font-weight="bold" stroke="#000" stroke-width="0.3" font-size="18.4">10% RFA</text>
<line x1="502.7" y1="717.6" x2="554.0" y2="717.6" stroke="#A5A5A5" stroke-width="2.5"/>
<path d="M528.35,714.10 L531.85,717.60 L528.35,721.10 L524.85,717.60Z" fill="#A5A5A5"/>
<text x="559.4" y="724.00" font-family="Liberation Serif" font-weight="bold" stroke="#000" stroke-width="0.3" font-size="18.4">20% RFA</text>
<line x1="152.5" y1="760.3" x2="205.7" y2="760.3" stroke="#FFC000" stroke-width="2.5"/>
<path d="M179.10,756.50 L182.60,763.20 L175.60,763.20Z" fill="#FFC000"/>
<text x="210.0" y="766.70" font-family="Liberation Serif" font-weight="bold" stroke="#000" stroke-width="0.3" font-size="18.4">30% RFA</text>
<line x1="327.4" y1="760.3" x2="379.9" y2="760.3" stroke="#5B9BD5" stroke-width="2.5"/>
<circle cx="353.65" cy="760.30" r="3.50" fill="#5B9BD5"/>
<text x="384.6" y="766.70" font-family="Liberation Serif" font-weight="bold" stroke="#000" stroke-width="0.3" font-size="18.4">40% RFA</text>
<rect x="2.1" y="1258.5" width="679.75" height="445.4000000000001" fill="#fff" stroke="#000" stroke-width="1.7"/>
<rect x="130.6" y="1269.4" width="158.79999999999998" height="26.0" fill="#fff" stroke="#000" stroke-width="1.5"/>
<text x="136.9" y="1288.9" font-family="Liberation Serif" font-weight="bold" stroke="#000" stroke-width="0.3" font-size="18" textLength="146.6" lengthAdjust="spacingAndGlyphs">Mode II, a/d = 0.30</text>
<line x1="99.50" y1="1623.60" x2="105.00" y2="1623.60" stroke="#000" stroke-width="2.75"/>
<text x="90.00" y="1629.40" font-family="Liberation Serif" font-weight="bold" stroke="#000" stroke-width="0.3" font-size="18.7" text-anchor="end">0.0</text>
<line x1="99.50" y1="1570.00" x2="105.00" y2="1570.00" stroke="#000" stroke-width="2.75"/>
<text x="90.00" y="1575.80" font-family="Liberation Serif" font-weight="bold" stroke="#000" stroke-width="0.3" font-size="18.7" text-anchor="end">20.0</text>
<line x1="99.50" y1="1516.40" x2="105.00" y2="1516.40" stroke="#000" stroke-width="2.75"/>
<text x="90.00" y="1522.20" font-family="Liberation Serif" font-weight="bold" stroke="#000" stroke-width="0.3" font-size="18.7" text-anchor="end">40.0</text>
<line x1="99.50" y1="1462.80" x2="105.00" y2="1462.80" stroke="#000" stroke-width="2.75"/>
<text x="90.00" y="1468.60" font-family="Liberation Serif" font-weight="bold" stroke="#000" stroke-width="0.3" font-size="18.7" text-anchor="end">60.0</text>
<line x1="99.50" y1="1409.20" x2="105.00" y2="1409.20" stroke="#000" stroke-width="2.75"/>
<text x="90.00" y="1415.00" font-family="Liberation Serif" font-weight="bold" stroke="#000" stroke-width="0.3" font-size="18.7" text-anchor="end">80.0</text>
<line x1="99.50" y1="1355.60" x2="105.00" y2="1355.60" stroke="#000" stroke-width="2.75"/>
<text x="90.00" y="1361.40" font-family="Liberation Serif" font-weight="bold" stroke="#000" stroke-width="0.3" font-size="18.7" text-anchor="end">100.0</text>
<line x1="99.50" y1="1302.00" x2="105.00" y2="1302.00" stroke="#000" stroke-width="2.75"/>
<text x="90.00" y="1307.80" font-family="Liberation Serif" font-weight="bold" stroke="#000" stroke-width="0.3" font-size="18.7" text-anchor="end">120.0</text>
<line x1="105.00" y1="1623.60" x2="105.00" y2="1629.10" stroke="#000" stroke-width="2.75"/>
<text x="105.00" y="1650.60" font-family="Liberation Serif" font-weight="bold" stroke="#000" stroke-width="0.3" font-size="18.7" text-anchor="middle">0.0</text>
<line x1="240.60" y1="1623.60" x2="240.60" y2="1629.10" stroke="#000" stroke-width="2.75"/>
<text x="240.60" y="1650.60" font-family="Liberation Serif" font-weight="bold" stroke="#000" stroke-width="0.3" font-size="18.7" text-anchor="middle">1.0</text>
<line x1="376.20" y1="1623.60" x2="376.20" y2="1629.10" stroke="#000" stroke-width="2.75"/>
<text x="376.20" y="1650.60" font-family="Liberation Serif" font-weight="bold" stroke="#000" stroke-width="0.3" font-size="18.7" text-anchor="middle">2.0</text>
<line x1="511.80" y1="1623.60" x2="511.80" y2="1629.10" stroke="#000" stroke-width="2.75"/>
<text x="511.80" y="1650.60" font-family="Liberation Serif" font-weight="bold" stroke="#000" stroke-width="0.3" font-size="18.7" text-anchor="middle">3.0</text>
<line x1="647.40" y1="1623.60" x2="647.40" y2="1629.10" stroke="#000" stroke-width="2.75"/>
<text x="647.40" y="1650.60" font-family="Liberation Serif" font-weight="bold" stroke="#000" stroke-width="0.3" font-size="18.7" text-anchor="middle">4.0</text>
<path d="M105.00,1300.62 L105.00,1623.60 L648.77,1623.60" fill="none" stroke="#000" stroke-width="2.75"/>
<text x="377.3" y="1695.0" font-family="Liberation Serif" font-weight="bold" stroke="#000" stroke-width="0.3" font-size="18" text-anchor="middle">Deflection in mm</text>
<text transform="translate(28.2,1481.6) rotate(-90)" font-family="Liberation Serif" font-weight="bold" stroke="#000" stroke-width="0.3" font-size="18" text-anchor="middle">load in kN</text>
<path d="M105.00,1623.60 C123.08,1614.22 141.61,1605.61 159.24,1595.46 C173.25,1587.39 186.75,1578.31 199.92,1568.93 C209.08,1562.41 217.44,1554.79 226.23,1547.76 C234.97,1540.76 243.68,1533.71 252.53,1526.85 C261.22,1520.13 269.94,1513.45 278.84,1507.02 C287.48,1500.77 296.19,1494.59 305.15,1488.80 C313.73,1483.24 322.41,1477.74 331.45,1472.98 C339.91,1468.54 348.75,1464.75 357.62,1461.19 C363.67,1458.77 369.89,1456.65 376.20,1455.03 C384.85,1452.81 393.67,1450.97 402.51,1449.67 C411.20,1448.38 420.09,1447.26 428.81,1447.26 C432.79,1447.26 437.54,1447.45 440.61,1449.67 C445.45,1453.16 448.92,1459.24 452.54,1464.41 C457.24,1471.12 460.81,1478.64 465.56,1485.31 C469.53,1490.88 473.70,1496.53 478.71,1501.12 C484.23,1506.18 490.98,1512.43 497.16,1514.26 C499.75,1515.02 503.50,1511.58 505.02,1508.90 C510.50,1499.25 513.47,1487.67 518.17,1477.27 C521.79,1469.27 525.57,1461.29 529.97,1453.69 C537.68,1440.38 545.37,1426.87 554.51,1414.56 C561.82,1404.72 571.51,1396.71 579.33,1387.22 C587.19,1377.68 594.15,1367.39 601.57,1357.48" fill="none" stroke="#4472C4" stroke-width="3.6" stroke-dasharray="5.1 6.65" stroke-linecap="round" stroke-linejoin="round"/>
<path d="M105.00,1623.60 C123.71,1614.67 142.70,1606.27 161.14,1596.80 C177.50,1588.40 194.14,1580.13 209.41,1570.00 C221.08,1562.26 230.99,1551.99 241.96,1543.20 C253.28,1534.12 264.58,1525.00 276.26,1516.40 C288.85,1507.13 301.41,1497.67 314.77,1489.60 C331.01,1479.80 347.23,1468.45 365.08,1462.80 C385.65,1456.30 408.90,1453.15 430.03,1453.15 C436.97,1453.15 444.40,1457.72 449.29,1462.80 C464.69,1478.80 477.38,1510.36 490.92,1516.40 C497.41,1519.29 503.50,1498.72 509.36,1489.60 C514.98,1480.85 519.93,1471.67 525.36,1462.80 C530.87,1453.81 536.46,1444.86 542.17,1436.00 C547.98,1426.99 553.99,1418.11 559.94,1409.20 C565.92,1400.25 571.45,1390.94 577.97,1382.40 C585.10,1373.08 593.25,1364.53 600.89,1355.60" fill="none" stroke="#ED7D31" stroke-width="2.5" stroke-linejoin="round"/>
<rect x="101.50" y="1620.10" width="7.00" height="7.00" fill="#ED7D31"/>
<rect x="157.64" y="1593.30" width="7.00" height="7.00" fill="#ED7D31"/>
<rect x="205.91" y="1566.50" width="7.00" height="7.00" fill="#ED7D31"/>
<rect x="238.46" y="1539.70" width="7.00" height="7.00" fill="#ED7D31"/>
<rect x="272.76" y="1512.90" width="7.00" height="7.00" fill="#ED7D31"/>
<rect x="311.27" y="1486.10" width="7.00" height="7.00" fill="#ED7D31"/>
<rect x="361.58" y="1459.30" width="7.00" height="7.00" fill="#ED7D31"/>
<rect x="426.53" y="1449.65" width="7.00" height="7.00" fill="#ED7D31"/>
<rect x="445.79" y="1459.30" width="7.00" height="7.00" fill="#ED7D31"/>
<rect x="487.42" y="1512.90" width="7.00" height="7.00" fill="#ED7D31"/>
<rect x="505.86" y="1486.10" width="7.00" height="7.00" fill="#ED7D31"/>
<rect x="521.86" y="1459.30" width="7.00" height="7.00" fill="#ED7D31"/>
<rect x="538.67" y="1432.50" width="7.00" height="7.00" fill="#ED7D31"/>
<rect x="556.44" y="1405.70" width="7.00" height="7.00" fill="#ED7D31"/>
<rect x="574.47" y="1378.90" width="7.00" height="7.00" fill="#ED7D31"/>
<rect x="597.39" y="1352.10" width="7.00" height="7.00" fill="#ED7D31"/>
<path d="M105.00,1623.60 C124.89,1614.67 145.13,1606.45 164.66,1596.80 C181.29,1588.58 197.65,1579.65 213.48,1570.00 C226.94,1561.79 239.64,1552.31 252.53,1543.20 C264.91,1534.45 276.88,1525.12 289.28,1516.40 C302.28,1507.25 314.71,1496.92 328.74,1489.60 C348.97,1479.05 370.32,1469.08 392.07,1462.80 C404.36,1459.25 417.93,1460.12 430.85,1460.12 C439.63,1460.12 450.22,1458.53 457.15,1462.80 C466.17,1468.36 471.58,1480.62 478.71,1489.60 C485.78,1498.49 492.78,1516.40 499.73,1516.40 C506.61,1516.40 514.26,1499.08 520.21,1489.60 C525.47,1481.21 528.35,1471.37 533.36,1462.80 C538.79,1453.50 545.51,1444.95 551.53,1436.00 C557.53,1427.09 563.59,1418.22 569.43,1409.20 C575.16,1400.35 580.12,1390.96 586.24,1382.40 C592.91,1373.09 600.62,1364.53 607.80,1355.60" fill="none" stroke="#A5A5A5" stroke-width="2.5" stroke-linejoin="round"/>
<path d="M105.00,1619.80 L108.50,1626.50 L101.50,1626.50Z" fill="#A5A5A5"/>
<path d="M164.66,1593.00 L168.16,1599.70 L161.16,1599.70Z" fill="#A5A5A5"/>
<path d="M213.48,1566.20 L216.98,1572.90 L209.98,1572.90Z" fill="#A5A5A5"/>
<path d="M252.53,1539.40 L256.03,1546.10 L249.03,1546.10Z" fill="#A5A5A5"/>
<path d="M289.28,1512.60 L292.78,1519.30 L285.78,1519.30Z" fill="#A5A5A5"/>
<path d="M328.74,1485.80 L332.24,1492.50 L325.24,1492.50Z" fill="#A5A5A5"/>
<path d="M392.07,1459.00 L395.57,1465.70 L388.57,1465.70Z" fill="#A5A5A5"/>
<path d="M430.85,1456.32 L434.35,1463.02 L427.35,1463.02Z" fill="#A5A5A5"/>
<path d="M457.15,1459.00 L460.65,1465.70 L453.65,1465.70Z" fill="#A5A5A5"/>
<path d="M478.71,1485.80 L482.21,1492.50 L475.21,1492.50Z" fill="#A5A5A5"/>
<path d="M499.73,1512.60 L503.23,1519.30 L496.23,1519.30Z" fill="#A5A5A5"/>
<path d="M520.21,1485.80 L523.71,1492.50 L516.71,1492.50Z" fill="#A5A5A5"/>
<path d="M533.36,1459.00 L536.86,1465.70 L529.86,1465.70Z" fill="#A5A5A5"/>
<path d="M551.53,1432.20 L555.03,1438.90 L548.03,1438.90Z" fill="#A5A5A5"/>
<path d="M569.43,1405.40 L572.93,1412.10 L565.93,1412.10Z" fill="#A5A5A5"/>
<path d="M586.24,1378.60 L589.74,1385.30 L582.74,1385.30Z" fill="#A5A5A5"/>
<path d="M607.80,1351.80 L611.30,1358.50 L604.30,1358.50Z" fill="#A5A5A5"/>
<path d="M105.00,1623.60 C129.95,1614.67 155.52,1607.14 179.85,1596.80 C197.55,1589.28 214.54,1579.80 231.11,1570.00 C244.74,1561.94 257.29,1552.08 270.43,1543.20 C283.73,1534.21 296.65,1524.59 310.43,1516.40 C326.71,1506.72 342.84,1495.63 360.61,1489.60 C383.61,1481.79 409.20,1474.86 432.75,1474.86 C444.77,1474.86 457.30,1482.56 467.32,1489.60 C477.01,1496.41 484.38,1506.92 491.87,1516.40 C498.49,1524.79 504.20,1543.20 509.63,1543.20 C514.73,1543.20 518.87,1525.34 523.46,1516.40 C528.04,1507.48 531.99,1498.18 537.16,1489.60 C542.75,1480.31 549.98,1472.01 555.73,1462.80 C561.15,1454.14 565.59,1444.88 570.65,1436.00 C575.76,1427.02 581.08,1418.15 586.24,1409.20 C591.39,1400.29 596.29,1391.23 601.57,1382.40 C606.96,1373.37 612.69,1364.53 618.25,1355.60" fill="none" stroke="#FFC000" stroke-width="2.5" stroke-linejoin="round"/>
<path d="M105.00,1619.80 L108.50,1626.50 L101.50,1626.50Z" fill="#FFC000"/>
<path d="M179.85,1593.00 L183.35,1599.70 L176.35,1599.70Z" fill="#FFC000"/>
<path d="M231.11,1566.20 L234.61,1572.90 L227.61,1572.90Z" fill="#FFC000"/>
<path d="M270.43,1539.40 L273.93,1546.10 L266.93,1546.10Z" fill="#FFC000"/>
<path d="M310.43,1512.60 L313.93,1519.30 L306.93,1519.30Z" fill="#FFC000"/>
<path d="M360.61,1485.80 L364.11,1492.50 L357.11,1492.50Z" fill="#FFC000"/>
<path d="M432.75,1471.06 L436.25,1477.76 L429.25,1477.76Z" fill="#FFC000"/>
<path d="M467.32,1485.80 L470.82,1492.50 L463.82,1492.50Z" fill="#FFC000"/>
<path d="M491.87,1512.60 L495.37,1519.30 L488.37,1519.30Z" fill="#FFC000"/>
<path d="M509.63,1539.40 L513.13,1546.10 L506.13,1546.10Z" fill="#FFC000"/>
<path d="M523.46,1512.60 L526.96,1519.30 L519.96,1519.30Z" fill="#FFC000"/>
<path d="M537.16,1485.80 L540.66,1492.50 L533.66,1492.50Z" fill="#FFC000"/>
<path d="M555.73,1459.00 L559.23,1465.70 L552.23,1465.70Z" fill="#FFC000"/>
<path d="M570.65,1432.20 L574.15,1438.90 L567.15,1438.90Z" fill="#FFC000"/>
<path d="M586.24,1405.40 L589.74,1412.10 L582.74,1412.10Z" fill="#FFC000"/>
<path d="M601.57,1378.60 L605.07,1385.30 L598.07,1385.30Z" fill="#FFC000"/>
<path d="M618.25,1351.80 L621.75,1358.50 L614.75,1358.50Z" fill="#FFC000"/>
<path d="M105.00,1623.60 C130.99,1614.67 157.65,1607.29 182.97,1596.80 C200.77,1589.42 217.42,1579.28 234.36,1570.00 C250.05,1561.41 265.51,1552.36 280.87,1543.20 C295.47,1534.50 309.54,1524.87 324.27,1516.40 C340.59,1507.01 356.41,1495.49 374.03,1489.60 C392.75,1483.34 413.65,1479.95 433.29,1479.95 C447.05,1479.95 462.15,1483.39 474.24,1489.60 C485.79,1495.54 494.83,1506.87 504.21,1516.40 C512.41,1524.74 520.31,1543.20 526.99,1543.20 C532.78,1543.20 536.66,1525.29 541.63,1516.40 C546.65,1507.42 551.92,1498.57 556.95,1489.60 C561.95,1480.71 566.79,1471.72 571.74,1462.80 C576.69,1453.86 581.22,1444.65 586.65,1436.00 C592.43,1426.78 600.17,1418.70 605.36,1409.20 C609.94,1400.83 611.76,1391.02 615.94,1382.40 C620.43,1373.15 626.25,1364.53 631.40,1355.60" fill="none" stroke="#5B9BD5" stroke-width="2.5" stroke-linejoin="round"/>
<circle cx="105.00" cy="1623.60" r="3.50" fill="#5B9BD5"/>
<circle cx="182.97" cy="1596.80" r="3.50" fill="#5B9BD5"/>
<circle cx="234.36" cy="1570.00" r="3.50" fill="#5B9BD5"/>
<circle cx="280.87" cy="1543.20" r="3.50" fill="#5B9BD5"/>
<circle cx="324.27" cy="1516.40" r="3.50" fill="#5B9BD5"/>
<circle cx="374.03" cy="1489.60" r="3.50" fill="#5B9BD5"/>
<circle cx="433.29" cy="1479.95" r="3.50" fill="#5B9BD5"/>
<circle cx="474.24" cy="1489.60" r="3.50" fill="#5B9BD5"/>
<circle cx="504.21" cy="1516.40" r="3.50" fill="#5B9BD5"/>
<circle cx="526.99" cy="1543.20" r="3.50" fill="#5B9BD5"/>
<circle cx="541.63" cy="1516.40" r="3.50" fill="#5B9BD5"/>
<circle cx="556.95" cy="1489.60" r="3.50" fill="#5B9BD5"/>
<circle cx="571.74" cy="1462.80" r="3.50" fill="#5B9BD5"/>
<circle cx="586.65" cy="1436.00" r="3.50" fill="#5B9BD5"/>
<circle cx="605.36" cy="1409.20" r="3.50" fill="#5B9BD5"/>
<circle cx="615.94" cy="1382.40" r="3.50" fill="#5B9BD5"/>
<circle cx="631.40" cy="1355.60" r="3.50" fill="#5B9BD5"/>
<line x1="128.3" y1="1332.2" x2="177.79999999999998" y2="1332.2" stroke="#4472C4" stroke-width="3.6" stroke-dasharray="5.1 6.95" stroke-linecap="round"/>
<text x="183.0" y="1338.60" font-family="Liberation Serif" font-weight="bold" stroke="#000" stroke-width="0.3" font-size="18.4">0% RFA</text>
<line x1="314.5" y1="1332.2" x2="367.0" y2="1332.2" stroke="#ED7D31" stroke-width="2.5"/>
<rect x="337.25" y="1328.70" width="7.00" height="7.00" fill="#ED7D31"/>
<text x="371.7" y="1338.60" font-family="Liberation Serif" font-weight="bold" stroke="#000" stroke-width="0.3" font-size="18.4">10% RFA</text>
<line x1="502.8" y1="1332.2" x2="554.9" y2="1332.2" stroke="#A5A5A5" stroke-width="2.5"/>
<path d="M528.85,1328.40 L532.35,1335.10 L525.35,1335.10Z" fill="#A5A5A5"/>
<text x="559.1" y="1338.60" font-family="Liberation Serif" font-weight="bold" stroke="#000" stroke-width="0.3" font-size="18.4">20% RFA</text>
<line x1="126.5" y1="1358.2" x2="179.6" y2="1358.2" stroke="#FFC000" stroke-width="2.5"/>
<path d="M153.05,1354.40 L156.55,1361.10 L149.55,1361.10Z" fill="#FFC000"/>
<text x="183.0" y="1364.60" font-family="Liberation Serif" font-weight="bold" stroke="#000" stroke-width="0.3" font-size="18.4">30% RFA</text>
<line x1="314.5" y1="1358.2" x2="367.0" y2="1358.2" stroke="#5B9BD5" stroke-width="2.5"/>
<circle cx="340.75" cy="1358.20" r="3.50" fill="#5B9BD5"/>
<text x="371.7" y="1364.60" font-family="Liberation Serif" font-weight="bold" stroke="#000" stroke-width="0.3" font-size="18.4">40% RFA</text>
<text x="317.0" y="595.6" font-family="Liberation Serif" font-size="29" stroke="#000" stroke-width="0.15">(a)</text>
<text x="317.2" y="1209.5" font-family="Liberation Serif" font-size="29" stroke="#000" stroke-width="0.15">(b)</text>
<text x="317.2" y="1761.0" font-family="Liberation Serif" font-size="29" stroke="#000" stroke-width="0.15">(c)</text>
</svg>
</body></html>
